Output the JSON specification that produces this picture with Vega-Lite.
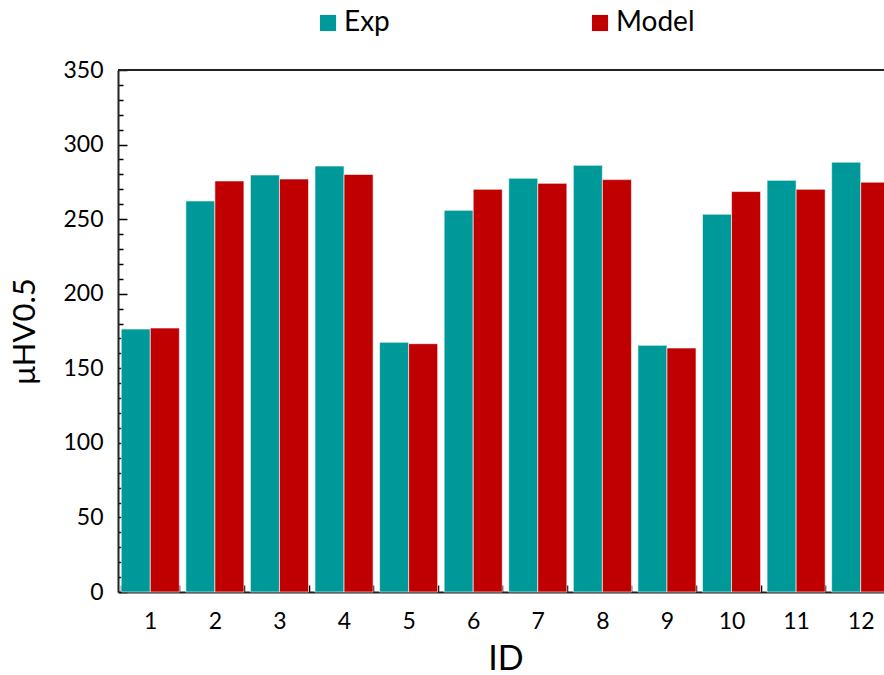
{
  "$schema": "https://vega.github.io/schema/vega-lite/v6.json",
  "width": 766,
  "height": 522,
  "autosize": {"type": "none"},
  "padding": {"left": 118, "top": 70, "right": 0, "bottom": 83},
  "config": {"font": "Lato", "view": {"stroke": null}},
  "data": {
    "values": [
      {"id": 1, "series": "Exp", "value": 176.3}, {"id": 1, "series": "Model", "value": 177.0},
      {"id": 2, "series": "Exp", "value": 262.2}, {"id": 2, "series": "Model", "value": 275.6},
      {"id": 3, "series": "Exp", "value": 279.6}, {"id": 3, "series": "Model", "value": 276.9},
      {"id": 4, "series": "Exp", "value": 285.6}, {"id": 4, "series": "Model", "value": 280.0},
      {"id": 5, "series": "Exp", "value": 167.4}, {"id": 5, "series": "Model", "value": 166.5},
      {"id": 6, "series": "Exp", "value": 255.9}, {"id": 6, "series": "Model", "value": 270.0},
      {"id": 7, "series": "Exp", "value": 277.4}, {"id": 7, "series": "Model", "value": 274.0},
      {"id": 8, "series": "Exp", "value": 286.1}, {"id": 8, "series": "Model", "value": 276.5},
      {"id": 9, "series": "Exp", "value": 165.4}, {"id": 9, "series": "Model", "value": 163.6},
      {"id": 10, "series": "Exp", "value": 253.3}, {"id": 10, "series": "Model", "value": 268.5},
      {"id": 11, "series": "Exp", "value": 276.0}, {"id": 11, "series": "Model", "value": 270.0},
      {"id": 12, "series": "Exp", "value": 288.2}, {"id": 12, "series": "Model", "value": 274.8}
    ]
  },
  "layer": [
    {
      "mark": {"type": "bar", "stroke": "white", "strokeWidth": 1, "strokeOpacity": 0.6},
      "encoding": {
        "x": {
          "field": "id", "type": "ordinal", "title": "ID",
          "scale": {"range": [0, 775], "paddingInner": 0.1, "paddingOuter": 0.05},
          "axis": {
            "labelAngle": 0, "labelFontSize": 23, "labelColor": "black", "labelPadding": 25,
            "tickBand": "extent", "tickSize": -7, "tickColor": "black", "tickWidth": 1.5,
            "domainColor": "#222", "domainWidth": 2,
            "titleFontSize": 34, "titleFontWeight": "normal", "titleColor": "black", "titlePadding": 9
          }
        },
        "xOffset": {"field": "series", "sort": ["Exp", "Model"], "scale": {"paddingInner": 0}},
        "y": {
          "field": "value", "type": "quantitative", "title": "μHV0.5",
          "scale": {"domain": [0, 350], "nice": false},
          "axis": {
            "values": [0,10,20,30,40,50,60,70,80,90,100,110,120,130,140,150,160,170,180,190,200,210,220,230,240,250,260,270,280,290,300,310,320,330,340,350],
            "tickCount": 40,
            "labelExpr": "datum.value % 50 === 0 ? datum.label : ''",
            "labelOverlap": false,
            "tickSize": {"condition": {"test": "datum.value % 50 === 0", "value": -9}, "value": -5},
            "tickColor": "black", "tickWidth": 1.5,
            "labelFontSize": 23, "labelColor": "black", "labelPadding": 24,
            "domainColor": "#222", "domainWidth": 2, "grid": false,
            "titleFontSize": 31, "titleFontWeight": "normal", "titleColor": "black", "titlePadding": 21
          }
        },
        "color": {
          "field": "series", "type": "nominal",
          "scale": {"domain": ["Exp", "Model"], "range": ["#009999", "#C00000"]},
          "legend": {
            "orient": "none", "legendX": 196, "legendY": -61, "direction": "horizontal",
            "title": null, "labelFontSize": 28, "labelColor": "black", "symbolType": "square",
            "symbolSize": 260, "symbolStrokeWidth": 0, "columnPadding": 196, "labelOffset": 2
          }
        }
      }
    },
    {
      "mark": {"type": "rule", "color": "#222", "strokeWidth": 2},
      "encoding": {"y": {"datum": 350}}
    }
  ]
}
